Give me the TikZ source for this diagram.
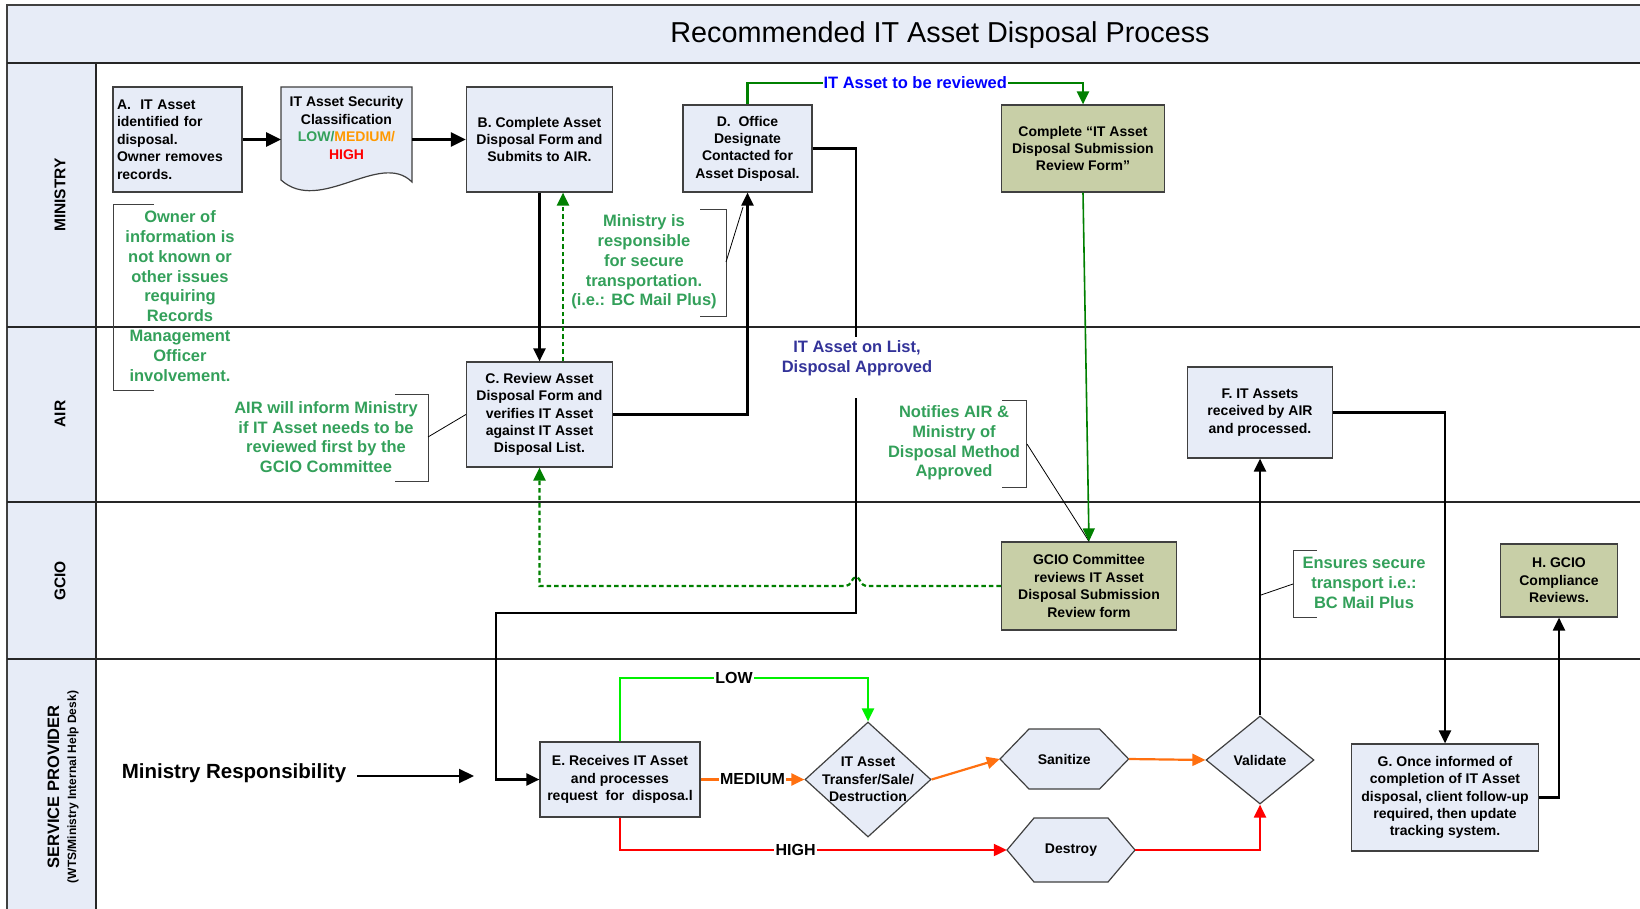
\documentclass[tikz,border=0pt]{standalone}
\usepackage{fontspec}
\setmainfont{Liberation Sans}
\usetikzlibrary{arrows.meta,shapes.geometric}
\definecolor{lblue}{RGB}{231,236,247}
\definecolor{olivebox}{RGB}{200,207,167}
\definecolor{bgray}{RGB}{64,64,64}
\definecolor{agreen}{RGB}{51,160,90}
\definecolor{dgreen}{RGB}{0,128,0}
\definecolor{limeg}{RGB}{0,240,0}
\definecolor{orng}{RGB}{255,112,16}
\definecolor{medorange}{RGB}{255,153,0}
\definecolor{dblue}{RGB}{51,51,153}
\definecolor{pblue}{RGB}{0,0,255}
\newcommand\boxfont{\fontsize{14}{17.4}\selectfont\bfseries}
\newcommand\annofont{\fontsize{16.5}{19.8}\selectfont\bfseries}
\begin{document}
\begin{tikzpicture}[x=1pt,y=-1pt,
  box/.style={draw=bgray, line width=1.2pt, fill=lblue, inner sep=2pt, align=center, font=\boxfont},
  obox/.style={box, fill=olivebox},
  shp/.style={draw=bgray, line width=1.2pt, fill=lblue},
  anno/.style={font=\annofont, text=agreen, align=center, inner sep=0pt},
  brk/.style={draw=bgray, line width=0.9pt},
  conn/.style={line width=2.2pt, -{Triangle[length=13pt,width=12pt]}},
  bigconn/.style={line width=2.8pt, -{Triangle[length=15pt,width=14pt]}},
  lanelbl/.style={rotate=90, font=\fontsize{15.5}{18}\selectfont\bfseries, align=center},
  flowlbl/.style={fill=white, text=black, inner sep=1.5pt, font=\fontsize{16}{18}\selectfont\bfseries},
  gdash/.style={dash pattern=on 4.5pt off 3pt}
]
\useasboundingbox (0,0) rectangle (1640,909);
% frame and lanes
\fill[lblue] (7,5) rectangle (1640,63);
\fill[lblue] (7,63) rectangle (96,909);
\draw[bgray, line width=1.5pt] (1640,5) -- (7,5) -- (7,909);
\draw[black!85, line width=1.5pt] (7,63) -- (1640,63);
\draw[black!85, line width=1.3pt] (7,327) -- (1640,327);
\draw[black!85, line width=1.3pt] (7,502) -- (1640,502);
\draw[black!85, line width=1.3pt] (7,659) -- (1640,659);
\draw[black!85, line width=1.3pt] (96,63) -- (96,909);
\node[font=\fontsize{28.8}{34}\selectfont] (title) at (940,35) {Recommended IT Asset Disposal Process};
\node[lanelbl] (lmin) at (60,195) {MINISTRY};
\node[lanelbl] (lair) at (60,414) {AIR};
\node[lanelbl] (lgcio) at (60,581) {GCIO};
\node[lanelbl] (lsp) at (63,787) {{\fontsize{16.5}{18}\selectfont SERVICE PROVIDER}\\[-1pt]{\fontsize{12}{13}\selectfont (WTS/Ministry Internal Help Desk)}};

% boxes
\node[box, align=left, text width=121pt, inner sep=4pt, minimum height=105pt] (A) at (177.5,139.5) {A.\ \ IT Asset\\identified for\\disposal.\\Owner removes\\records.};
\draw[shp] (281,87) -- (412,87) -- (412,182) .. controls (380,150) and (320,215) .. (281,180) -- cycle;
\node[font=\boxfont, align=center, inner sep=0pt] (doc) at (346.5,128) {IT Asset Security\\Classification\\{\color{agreen}LOW/}{\color{medorange}MEDIUM/}\\{\color{red}HIGH}};
\coordinate (docW) at (281,139.5);
\coordinate (docE) at (412,139.5);
\node[box, minimum width=146pt, minimum height=105pt] (B) at (539.5,139.5) {B. Complete Asset\\Disposal Form and\\Submits to AIR.};
\node[box, minimum width=129pt, minimum height=87pt] (D) at (747.5,148.5) {D.\ \ Office\\Designate\\Contacted for\\Asset Disposal.};
\node[obox, minimum width=163pt, minimum height=87pt] (cf) at (1083,148.5) {Complete “IT Asset\\Disposal Submission\\Review Form”};
\node[box, minimum width=146pt, minimum height=105pt] (C) at (539.5,414.5) {C. Review Asset\\Disposal Form and\\verifies IT Asset\\against IT Asset\\Disposal List.};
\node[box, minimum width=145.5pt, minimum height=91pt] (F) at (1260,412.5) {F. IT Assets\\received by AIR\\and processed.};
\node[obox, minimum width=175pt, minimum height=88pt] (gc) at (1089,586) {GCIO Committee\\reviews IT Asset\\Disposal Submission\\Review form};
\node[obox, minimum width=117.6pt, minimum height=73pt] (H) at (1559,580.5) {H. GCIO\\Compliance\\Reviews.};
\node[box, minimum width=160pt, minimum height=75pt] (E) at (620,779.5) {E. Receives IT Asset\\and processes\\request\ \ for\ \ disposa.l};
\node[box, minimum width=187.6pt, minimum height=107pt] (G) at (1445,797.5) {G. Once informed of\\completion of IT Asset\\disposal, client follow-up\\required, then update\\tracking system.};
\node[shp, diamond, minimum width=126pt, minimum height=115pt, inner sep=0pt] (tsd) at (868,779.5) {};
\node[font=\boxfont, align=center, inner sep=0pt] (tsdt) at (868,779.5) {IT Asset\\Transfer/Sale/\\Destruction};
\draw[shp] (1000,759) -- (1029,729) -- (1099.6,729) -- (1128.6,759) -- (1099.6,789) -- (1029,789) -- cycle;
\node[font=\boxfont, minimum width=128.6pt, inner sep=0pt] (san) at (1064.3,759) {Sanitize};
\draw[shp] (1007,850) -- (1034,818) -- (1108,818) -- (1135,850) -- (1108,882) -- (1034,882) -- cycle;
\node[font=\boxfont, minimum width=128pt, inner sep=0pt] (des) at (1071,850) {Destroy};
\node[shp, diamond, font=\boxfont, minimum width=108pt, minimum height=88pt, inner sep=0pt] (val) at (1260,760) {Validate};

% annotations
\node[anno] (n1) at (180,296) {Owner of\\information is\\not known or\\other issues\\requiring\\Records\\Management\\Officer\\involvement.};
\draw[brk] (154,204) -- (113,204) -- (113,390) -- (154,390);
\node[anno] (n2) at (644,262) {Ministry is\\responsible\\for secure\\transportation.\\(i.e.: BC Mail Plus)};
\draw[brk] (700,209) -- (726,209) -- (726,316) -- (700,316);
\coordinate (n2a) at (726,262);
\coordinate (n2b) at (743,207);
\draw[line width=0.8pt] (n2a) -- (n2b);
\node[anno] (n3) at (326,437) {AIR will inform Ministry\\if IT Asset needs to be\\reviewed first by the\\GCIO Committee};
\draw[brk] (395,394) -- (428,394) -- (428,481) -- (395,481);
\coordinate (n3a) at (428,437);
\draw[line width=0.8pt] (n3a) -- (C.west);
\node[anno] (n4) at (954,443) {Notifies AIR \&\\Ministry of\\Disposal Method\\Approved};
\draw[brk] (1002,400) -- (1026.6,400) -- (1026.6,487) -- (1002,487);
\coordinate (n4a) at (1027,444);
\draw[line width=0.8pt] (n4a) -- (gc.north);
\node[anno] (n5) at (1364,583) {Ensures secure\\transport i.e.:\\BC Mail Plus};
\draw[brk] (1317,550) -- (1293,550) -- (1293,617) -- (1317,617);
\coordinate (n5a) at (1293,584);
\coordinate (n5b) at (1261,595);
\draw[line width=0.8pt] (n5a) -- (n5b);
\node[font=\annofont, text=dblue, align=center, inner sep=0pt] (onlist) at (857,358) {IT Asset on List,\\Disposal Approved};

\node[font=\fontsize{20.5}{24}\selectfont\bfseries, inner sep=0pt] (mr) at (234,773) {Ministry Responsibility};
\coordinate (mrs) at (357,776);
\coordinate (mre) at (474,776);

% connectors
\draw[bigconn] (A.east) -- (docW);
\draw[bigconn] (docE) -- (B.west);
\draw[conn] (B.south) -- (C.north);
\draw[conn, dgreen, gdash] ([xshift=23.5pt]C.north) -- ([xshift=23.5pt]B.south);
\draw[conn] (C.east) -| (D.south);
\draw[conn] (D.east) -- (856,148.5) -- (856,337) (856,398) -- (856,613) -- (496,613) |- (E.west);
\draw[conn, dgreen] (D.north) -- (747.5,83) -- node[fill=white, inner sep=1pt, font=\annofont, text=pblue] (rev) {IT Asset to be reviewed} (1083,83) -- (cf.north);
\draw[conn, dgreen, line width=1.6pt] (cf.south) -- (gc.north);
\draw[conn, dgreen, gdash] (gc.west) -- (866,586) .. controls (861,586) and (860,577) .. (856,577) .. controls (852,577) and (851,586) .. (846,586) -- (539.5,586) -- (C.south);
\draw[bigconn, line width=2.2pt] (mrs) -- (mre);
\draw[conn, limeg] (E.north) -- (620,678) -- node[flowlbl, pos=0.46] (low) {LOW} (868,678) -- (tsd.north);
\draw[conn, orng] (E.east) -- node[flowlbl] (med) {MEDIUM} (tsd.west);
\draw[conn, orng] (tsd.east) -- (san.west);
\draw[conn, orng] (san.east) -- (val.west);
\draw[conn, red] (E.south) |- node[flowlbl, pos=0.727] (high) {HIGH} (des.west);
\draw[conn, red] (des.east) -| (val.south);
\draw[conn] (val.north) -- (F.south);
\draw[conn] (F.east) -| (G.north);
\draw[conn] (G.east) -| (H.south);
\end{tikzpicture}
\end{document}
